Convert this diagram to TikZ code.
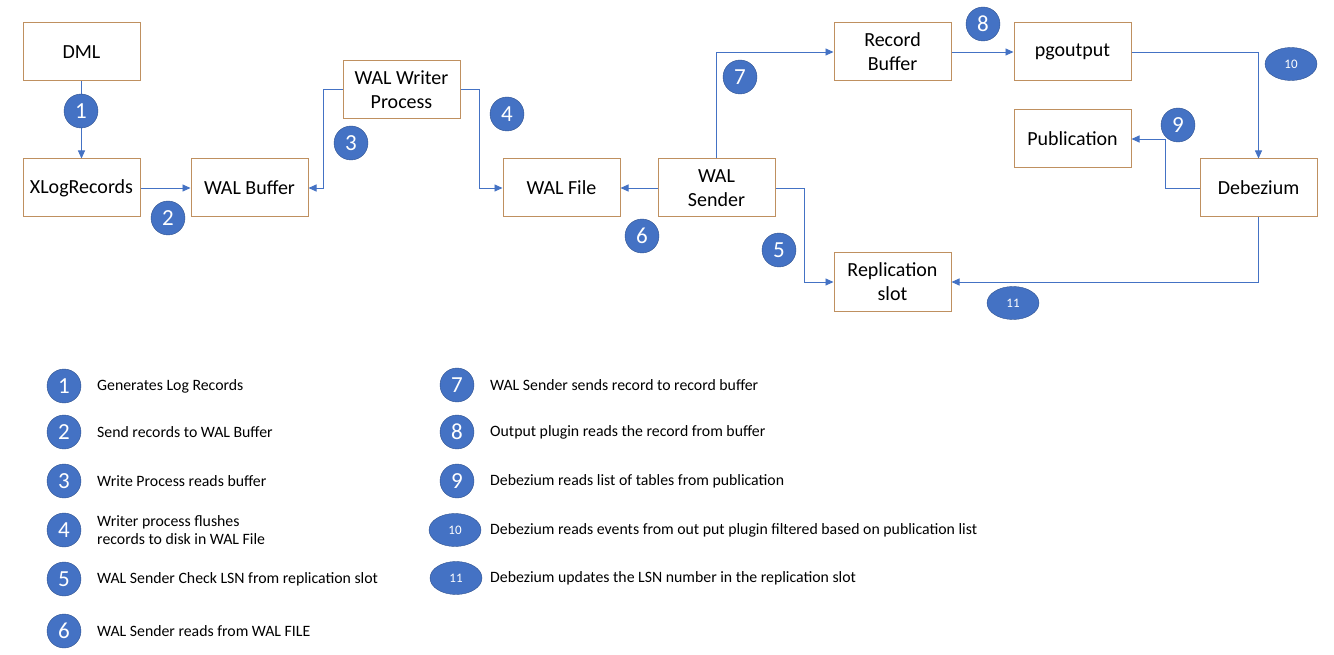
\documentclass[tikz,border=0pt]{standalone}
\usepackage{fontspec}
\setmainfont{Carlito}
\usetikzlibrary{arrows.meta,shapes.geometric}
\definecolor{boxline}{RGB}{191,144,96}
\definecolor{stepblue}{RGB}{68,114,196}
\definecolor{stepedge}{RGB}{47,82,143}
\begin{document}
\begin{tikzpicture}[x=1pt,y=-1pt,
        box/.style={draw=boxline,line width=1pt,fill=white,minimum width=117pt,minimum height=58pt,
            align=center,font=\fontsize{20}{24}\selectfont},
        num/.style={circle,fill=stepblue,draw=stepedge,line width=0.4pt,text=white,minimum size=34pt,
            inner sep=0pt,font=\fontsize{23}{23}\selectfont},
        numoval/.style={ellipse,fill=stepblue,draw=stepedge,line width=0.4pt,text=white,minimum width=52pt,
            minimum height=33pt,inner sep=0pt,font=\fontsize{13}{13}\selectfont},
        conn/.style={draw=stepblue,line width=0.9pt,-{Triangle[length=8pt,width=7pt]}},
        legend/.style={anchor=west,align=left,inner sep=0pt,font=\fontsize{15.8}{18.5}\selectfont}]
    \useasboundingbox (0,0) rectangle (1334,655);

    % boxes
    \node[box] (dml) at (81.5,52) {DML};
    \node[box] (xlog) at (81.5,188) {XLogRecords};
    \node[box] (walbuf) at (249.5,188) {WAL Buffer};
    \node[box] (writer) at (401.5,89.5) {WAL Writer\\Process};
    \node[box] (walfile) at (561.5,188) {WAL File};
    \node[box] (sender) at (716.5,188) {WAL\\Sender};
    \node[box] (recbuf) at (892.5,52) {Record\\Buffer};
    \node[box] (repslot) at (892.5,282) {Replication\\slot};
    \node[box] (pgout) at (1072.5,52) {pgoutput};
    \node[box] (pub) at (1072.5,139) {Publication};
    \node[box] (debez) at (1258.5,188) {Debezium};

    % connectors
    \draw[conn] (dml.south) -- (xlog.north);
    \draw[conn] (xlog.east) -- (walbuf.west);
    \draw[conn] (writer.west) -- ++(-19,0) |- (walbuf.east);
    \draw[conn] (writer.east) -- ++(19,0) |- (walfile.west);
    \draw[conn] (sender.west) -- (walfile.east);
    \draw[conn] (sender.north) |- (recbuf.west);
    \draw[conn] (sender.east) -- ++(29,0) |- (repslot.west);
    \draw[conn] (recbuf.east) -- (pgout.west);
    \draw[conn] (pgout.east) -| (debez.north);
    \draw[conn] (debez.west) -- ++(-34,0) |- (pub.east);
    \draw[conn] (debez.south) |- (repslot.east);

    % step numbers
    \node[num] (n1) at (81,111) {1};
    \node[num] (n2) at (168,218) {2};
    \node[num] (n3) at (351,143) {3};
    \node[num] (n4) at (507,114) {4};
    \node[num] (n5) at (779,250) {5};
    \node[num] (n6) at (642,236) {6};
    \node[num] (n7) at (740,77) {7};
    \node[num] (n8) at (983,24) {8};
    \node[num] (n9) at (1178,125) {9};
    \node[numoval] (n10) at (1291,64) {10};
    \node[numoval] (n11) at (1013,303) {11};

    % legend
    \node[num] (l1) at (64,386) {1};
    \node[legend] at (97,386) {Generates Log Records};
    \node[num] (l2) at (64,432) {2};
    \node[legend] at (97,432) {Send records to WAL Buffer};
    \node[num] (l3) at (64,481) {3};
    \node[legend] at (97,481) {Write Process reads buffer};
    \node[num] (l4) at (64,530) {4};
    \node[legend] at (97,530) {Writer process flushes\\records to disk in WAL File};
    \node[num] (l5) at (64,579) {5};
    \node[legend] at (97,579) {WAL Sender Check LSN from replication slot};
    \node[num] (l6) at (64,631) {6};
    \node[legend] at (97,631) {WAL Sender reads from WAL FILE};
    \node[num] (l7) at (457,385) {7};
    \node[legend] at (490,385) {WAL Sender sends record to record buffer};
    \node[num] (l8) at (457,432) {8};
    \node[legend] at (490,432) {Output plugin reads the record from buffer};
    \node[num] (l9) at (457,481) {9};
    \node[legend] at (490,481) {Debezium reads list of tables from publication};
    \node[numoval] (l10) at (455,530) {10};
    \node[legend] at (490,530) {Debezium reads events from out put plugin filtered based on publication list};
    \node[numoval] (l11) at (456,578) {11};
    \node[legend] at (490,578) {Debezium updates the LSN number in the replication slot};
\end{tikzpicture}
\end{document}
